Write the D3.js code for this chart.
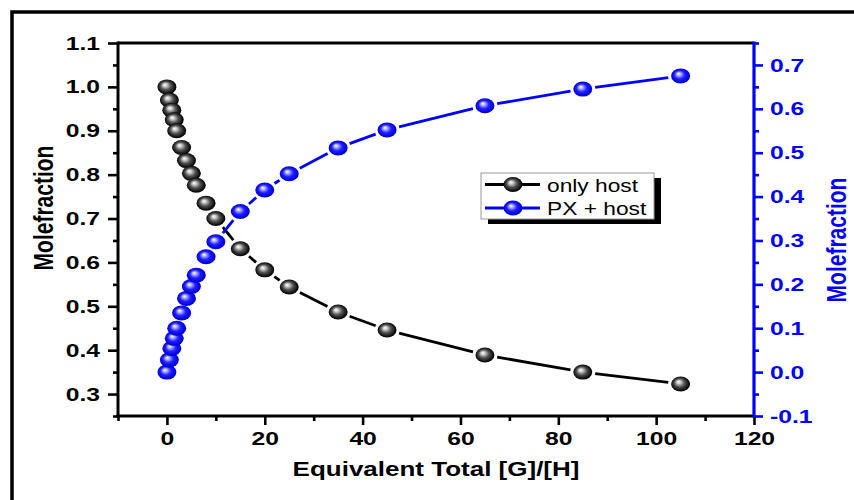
<!DOCTYPE html>
<html><head><meta charset="utf-8">
<script src="https://cdn.jsdelivr.net/npm/d3@7"></script>
<style>body{margin:0;background:#fff}svg{display:block}</style>
</head><body><svg id="c" width="854" height="500"></svg>
<script>
// ---- data ----
const eqTotal  = [0, 0.5, 1, 1.5, 2, 3, 4, 5, 6, 8, 10, 15, 20, 25, 35, 45, 65, 85, 105];
const onlyHost = [1.000, 0.970, 0.947, 0.925, 0.900, 0.862, 0.832, 0.803, 0.776, 0.735, 0.700, 0.631, 0.583, 0.544, 0.487, 0.446, 0.389, 0.350, 0.323];
const pxHost   = [0.000, 0.028, 0.054, 0.077, 0.100, 0.135, 0.168, 0.195, 0.221, 0.263, 0.297, 0.366, 0.415, 0.452, 0.511, 0.552, 0.607, 0.645, 0.675];
const seriesNames = ["only host", "PX + host"];
const xMajor = [0, 20, 40, 60, 80, 100, 120];
const xMinor = [-10, 10, 30, 50, 70, 90, 110];
const yLeftMajor = [0.3, 0.4, 0.5, 0.6, 0.7, 0.8, 0.9, 1.0, 1.1];
const yLeftMinor = [0.25, 0.35, 0.45, 0.55, 0.65, 0.75, 0.85, 0.95, 1.05];
const yRightMajor = [-0.1, 0.0, 0.1, 0.2, 0.3, 0.4, 0.5, 0.6, 0.7];
const yRightMinor = [-0.05, 0.05, 0.15, 0.25, 0.35, 0.45, 0.55, 0.65, 0.75];
const xTitle = "Equivalent Total [G]/[H]";
const yTitle = "Molefraction";

// ---- layout ----
const SX = 1.3;            // horizontal stretch of the original artwork
const FONT = "'Liberation Sans', Arial, sans-serif";
const BLUE = "#0000ff";
const m = {l: 118, r: 754, t: 43, b: 416};
const x  = d3.scaleLinear().domain([-10, 120]).range([m.l, m.r]);
const yL = d3.scaleLinear().domain([0.25, 1.1]).range([m.b, m.t]);
const yR = d3.scaleLinear().domain([-0.1, 0.75]).range([m.b, m.t]);
const fmt1 = v => d3.format(".1f")(v).replace("\u2212", "-");

const svg = d3.select("#c");
svg.append("rect").attr("width", 854).attr("height", 500).attr("fill", "#fff");
// outer frame
svg.append("rect").attr("x", 12).attr("y", 12).attr("width", 900).attr("height", 600)
  .attr("fill", "none").attr("stroke", "#000").attr("stroke-width", 3.5);

// gradients
const defs = svg.append("defs");
function grad(id, stops) {
  const g = defs.append("radialGradient").attr("id", id)
    .attr("cx", "50%").attr("cy", "50%").attr("r", "55%").attr("fx", "38%").attr("fy", "35%");
  stops.forEach(s => g.append("stop").attr("offset", s[0]).attr("stop-color", s[1]));
}
grad("gBlack", [[0, "#ffffff"], [0.18, "#d0d0d0"], [0.5, "#505050"], [0.85, "#0a0a0a"], [1, "#000"]]);
grad("gBlue",  [[0, "#ffffff"], [0.18, "#b8b8ff"], [0.5, "#2020ff"], [0.85, "#0000e0"], [1, "#0000a0"]]);

// ---- axes ----
function styleAxis(g, color) {
  g.select(".domain").remove();
  g.selectAll(".tick line").attr("stroke", color).attr("stroke-width", 2.6);
  g.selectAll("text").attr("fill", color).attr("font-family", FONT)
    .attr("font-size", 19).attr("font-weight", "bold");
}
// bottom
const gxMin = svg.append("g").attr("transform", `translate(0,${m.b})`)
  .call(d3.axisBottom(x).tickValues(xMinor).tickSize(5).tickFormat(""));
styleAxis(gxMin, "#000");
const gx = svg.append("g").attr("transform", `translate(0,${m.b})`)
  .call(d3.axisBottom(x).tickValues(xMajor).tickSize(9).tickPadding(7).tickFormat(d3.format("d")));
styleAxis(gx, "#000");
gx.selectAll("text").attr("transform", `scale(${SX},1)`);
// left
const gyMin = svg.append("g").attr("transform", `translate(${m.l},0)`)
  .call(d3.axisLeft(yL).tickValues(yLeftMinor).tickSize(5).tickFormat(""));
styleAxis(gyMin, "#000");
const gy = svg.append("g").attr("transform", `translate(${m.l},0)`)
  .call(d3.axisLeft(yL).tickValues(yLeftMajor).tickSize(10).tickPadding(8).tickFormat(fmt1));
styleAxis(gy, "#000");
gy.selectAll("text").attr("x", -18 / SX).attr("transform", `scale(${SX},1)`);
// right
const grMin = svg.append("g").attr("transform", `translate(${m.r},0)`)
  .call(d3.axisRight(yR).tickValues(yRightMinor).tickSize(5).tickFormat(""));
styleAxis(grMin, BLUE);
const gr = svg.append("g").attr("transform", `translate(${m.r},0)`)
  .call(d3.axisRight(yR).tickValues(yRightMajor).tickSize(9).tickPadding(7).tickFormat(fmt1));
styleAxis(gr, BLUE);
gr.selectAll("text").attr("x", 16 / SX).attr("transform", `scale(${SX},1)`);

// axis lines
svg.append("line").attr("x1", m.l).attr("x2", m.r).attr("y1", m.t).attr("y2", m.t)
  .attr("stroke", "#000").attr("stroke-width", 3);
svg.append("line").attr("x1", m.l - 1.5).attr("x2", m.r).attr("y1", m.b).attr("y2", m.b)
  .attr("stroke", "#000").attr("stroke-width", 3);
svg.append("line").attr("x1", m.l).attr("x2", m.l).attr("y1", m.t - 1.5).attr("y2", m.b + 1.5)
  .attr("stroke", "#000").attr("stroke-width", 3);
svg.append("line").attr("x1", m.r).attr("x2", m.r).attr("y1", m.t - 1.5).attr("y2", m.b + 1.5)
  .attr("stroke", BLUE).attr("stroke-width", 3.2);

// titles
svg.append("text").attr("transform", `translate(436,476) scale(${SX},1)`)
  .attr("text-anchor", "middle").attr("font-family", FONT).attr("font-size", 20)
  .attr("font-weight", "bold").attr("fill", "#000").text(xTitle);
svg.append("text").attr("transform", `translate(53,208) scale(${SX},1) rotate(-90)`)
  .attr("text-anchor", "middle").attr("font-family", FONT).attr("font-size", 21)
  .attr("font-weight", "bold").attr("fill", "#000").text(yTitle);
svg.append("text").attr("transform", `translate(846,240) scale(${SX},1) rotate(-90)`)
  .attr("text-anchor", "middle").attr("font-family", FONT).attr("font-size", 21)
  .attr("font-weight", "bold").attr("fill", BLUE).text(yTitle);

// ---- series ----
const RX = 9.5, RY = 7.5, GAP = 3;
function drawSeries(vals, yScale, color, gradId) {
  const pts = eqTotal.map((d, i) => [x(d), yScale(vals[i])]);
  const g = svg.append("g");
  for (let i = 0; i < pts.length - 1; i++) {
    const [x1, y1] = pts[i], [x2, y2] = pts[i + 1];
    const dx = x2 - x1, dy = y2 - y1, d = Math.hypot(dx, dy);
    const ux = dx / d, uy = dy / d;
    const r = 1 / Math.sqrt((ux / RX) ** 2 + (uy / RY) ** 2) + GAP;
    if (d > 2 * r + 2) {
      g.append("line").attr("x1", x1 + ux * r).attr("y1", y1 + uy * r)
        .attr("x2", x2 - ux * r).attr("y2", y2 - uy * r)
        .attr("stroke", color).attr("stroke-width", 2.8);
    }
  }
  g.selectAll("ellipse").data(pts).join("ellipse")
    .attr("cx", d => d[0]).attr("cy", d => d[1]).attr("rx", RX).attr("ry", RY)
    .attr("fill", `url(#${gradId})`);
}
drawSeries(onlyHost, yL, "#000", "gBlack");
drawSeries(pxHost, yR, BLUE, "gBlue");

// ---- legend ----
const lg = svg.append("g");
lg.append("rect").attr("x", 488).attr("y", 178).attr("width", 173).attr("height", 46).attr("fill", "#000");
lg.append("rect").attr("x", 481).attr("y", 173).attr("width", 173).attr("height", 46)
  .attr("fill", "#fff").attr("stroke", "#999").attr("stroke-width", 1);
[[seriesNames[0], "#000", "gBlack", 184.5], [seriesNames[1], BLUE, "gBlue", 208]].forEach(([name, col, gid, yy]) => {
  lg.append("line").attr("x1", 485).attr("x2", 540).attr("y1", yy).attr("y2", yy)
    .attr("stroke", col).attr("stroke-width", 2.8);
  lg.append("ellipse").attr("cx", 513).attr("cy", yy).attr("rx", RX).attr("ry", RY)
    .attr("fill", `url(#${gid})`);
  lg.append("text").attr("transform", `translate(547,${yy + 7}) scale(${SX},1)`)
    .attr("font-family", FONT).attr("font-size", 17.5).attr("fill", "#000").text(name);
});
</script></body></html>
